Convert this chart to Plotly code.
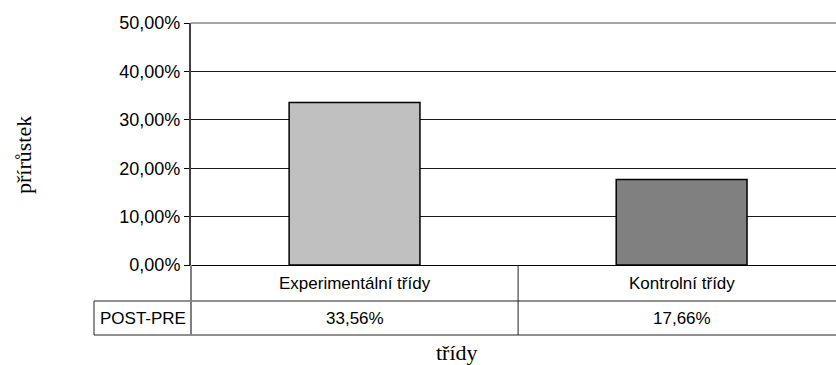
import plotly.graph_objects as go

# Data
categories = ["Experimentální třídy", "Kontrolní třídy"]
gain = [0.3356, 0.1766]
row_label = "POST-PRE"
y_ticks = [0.0, 0.1, 0.2, 0.3, 0.4, 0.5]

# Geometry (pixels)
W, H = 836, 365
L, T, B = 191, 23, 265          # plot left, top, bottom
ROW1, ROW2 = 301, 335           # data-table row bottoms
TABLE_LEFT = 94
X_RANGE = [-0.5, 1.472]

plot_w = W - L
plot_h = B - T


def px_x(p):
    return (p - L) / plot_w


def px_y(p):
    return (B - p) / plot_h


def data_x_to_paper(v):
    return (v - X_RANGE[0]) / (X_RANGE[1] - X_RANGE[0])


def pct(v):
    return f"{v * 100:.2f}%".replace(".", ",")


bar_colors = ["#c0c0c0", "#808080"]
sans = "Liberation Sans, Arial, sans-serif"
serif = "Liberation Serif, Times New Roman, serif"

fig = go.Figure(
    go.Bar(
        x=[0, 1],
        y=gain,
        width=0.4,
        marker=dict(color=bar_colors, line=dict(color="black", width=1.5)),
        hoverinfo="skip",
    )
)

shapes = []
# table horizontal rules
for yp in (ROW1, ROW2):
    shapes.append(dict(type="line", xref="paper", yref="paper",
                       x0=px_x(TABLE_LEFT), x1=1.0, y0=px_y(yp), y1=px_y(yp),
                       line=dict(color="#222", width=1)))
# left edge of the row-label cell
shapes.append(dict(type="line", xref="paper", yref="paper",
                   x0=px_x(TABLE_LEFT), x1=px_x(TABLE_LEFT),
                   y0=px_y(ROW1), y1=px_y(ROW2), line=dict(color="#222", width=1)))
# divider between the two category columns
xd = data_x_to_paper(0.5)
shapes.append(dict(type="line", xref="paper", yref="paper",
                   x0=xd, x1=xd, y0=px_y(B), y1=px_y(ROW2),
                   line=dict(color="#222", width=1)))
# value axis line continued through the table
shapes.append(dict(type="line", xref="paper", yref="paper",
                   x0=0, x1=0, y0=px_y(B), y1=px_y(ROW2),
                   line=dict(color="#808080", width=2)))
# top border of the plot area
shapes.append(dict(type="line", xref="paper", yref="paper",
                   x0=0, x1=1, y0=1, y1=1,
                   line=dict(color="#a6a6a6", width=2)))

annotations = []
row1_mid = px_y((B + ROW1) / 2)
row2_mid = px_y((ROW1 + ROW2) / 2)
cell_font = dict(family=sans, size=17, color="black")
for i, (cat, v) in enumerate(zip(categories, gain)):
    annotations.append(dict(x=i, xref="x", y=row1_mid, yref="paper",
                            xanchor="center", yanchor="middle",
                            text=cat, showarrow=False, font=cell_font))
    annotations.append(dict(x=i, xref="x", y=row2_mid, yref="paper",
                            xanchor="center", yanchor="middle",
                            text=pct(v), showarrow=False, font=cell_font))
annotations.append(dict(x=px_x((TABLE_LEFT + L) / 2), xref="paper",
                        y=row2_mid, yref="paper", text=row_label,
                        xanchor="center", yanchor="middle",
                        showarrow=False, font=cell_font))
# axis titles
title_font = dict(family=serif, size=22, color="black")
annotations.append(dict(x=px_x(23), xref="paper", y=px_y(155), yref="paper",
                        xanchor="center", yanchor="middle",
                        text="přírůstek", textangle=-90, showarrow=False,
                        font=title_font))
annotations.append(dict(x=px_x(457), xref="paper", y=px_y(352), yref="paper",
                        xanchor="center", yanchor="middle",
                        text="třídy", showarrow=False, font=title_font))

fig.update_layout(
    width=W, height=H,
    margin=dict(l=L, r=0, t=T, b=H - B, pad=0),
    paper_bgcolor="white", plot_bgcolor="white",
    separators=", ",
    showlegend=False,
    shapes=shapes,
    annotations=annotations,
    xaxis=dict(range=X_RANGE, showticklabels=False, ticks="",
               showgrid=False, zeroline=False,
               showline=True, linecolor="black", linewidth=1),
    yaxis=dict(range=[0, 0.5], tickvals=y_ticks, tickformat=".2%",
               ticks="outside", ticklen=5, tickcolor="black", tickwidth=1,
               tickfont=dict(family=sans, size=18, color="black"),
               showgrid=True, gridcolor="#1a1a1a", gridwidth=1,
               zeroline=False, showline=True, linecolor="#404040",
               linewidth=2),
)

fig.write_html("out.html")
